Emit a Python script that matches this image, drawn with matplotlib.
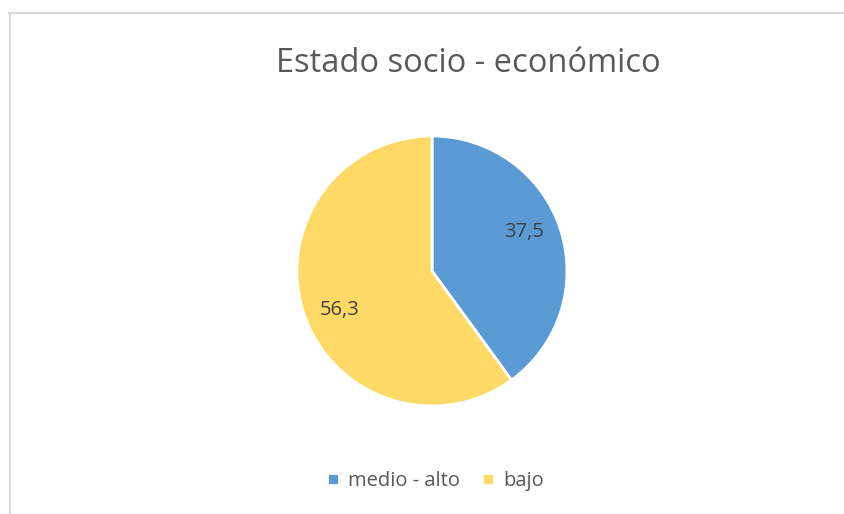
import numpy as np
import matplotlib.pyplot as plt
from matplotlib.lines import Line2D

# datos
categorias = ["medio - alto", "bajo"]
valores = [37.5, 56.3]
colores = ["#5B9BD5", "#FFD966"]

fig = plt.figure(figsize=(8.44, 5.14), dpi=100)
plt.rcParams['font.family'] = ['Open Sans', 'DejaVu Sans']

# marco del grafico
fig.add_artist(Line2D([9 / 844, 1], [1 - 12.5 / 514] * 2, color="#D9D9D9", lw=1.5))
fig.add_artist(Line2D([9.5 / 844] * 2, [0, 1 - 12.5 / 514], color="#D9D9D9", lw=1.5))

fig.text(468.5 / 844, 1 - 64 / 514, "Estado socio - económico", ha="center", va="center",
         fontsize=23.5, color="#595959")

ax = fig.add_axes([(432 - 135) / 844, (514 - 271 - 135) / 514, 270 / 844, 270 / 514])
wedges, textos, autotextos = ax.pie(
    valores, colors=colores, startangle=90, counterclock=False,
    autopct=lambda p: f"{p * sum(valores) / 100:.1f}".replace(".", ","),
    pctdistance=0.74, wedgeprops=dict(edgecolor="white", linewidth=2),
    textprops=dict(fontsize=14.5, color="#404040"))

# girar un poco las etiquetas como en Excel
giro = np.deg2rad(5)
for t in autotextos:
    x, y = t.get_position()
    t.set_position((x * np.cos(giro) - y * np.sin(giro), x * np.sin(giro) + y * np.cos(giro)))

ax.set_xlim(-1, 1)
ax.set_ylim(-1, 1)
ax.set_aspect("equal")

fig.legend(wedges, categorias, loc="center", bbox_to_anchor=(435.5 / 844, 1 - 481 / 514),
           ncol=2, frameon=False, fontsize=14.5, handlelength=0.6, handleheight=0.6,
           handletextpad=0.45, columnspacing=1.1, labelcolor="#595959")

plt.savefig("out.png", dpi=100)
